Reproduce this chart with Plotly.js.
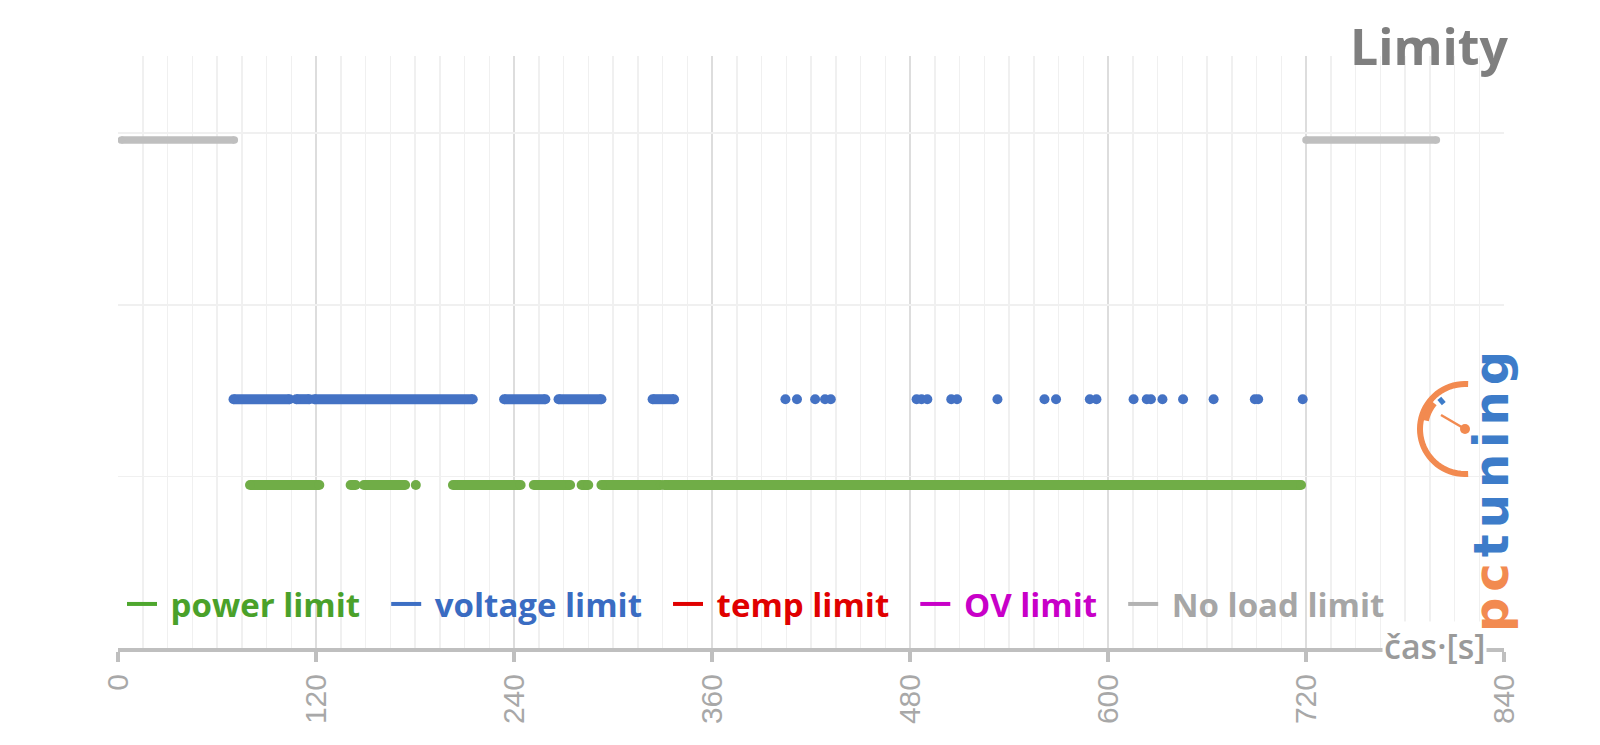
<!DOCTYPE html>
<html>
<head>
<meta charset="utf-8">
<script src="https://cdn.plot.ly/plotly-3.0.1.min.js"></script>
<style>html,body{margin:0;padding:0;background:#fff;}#chart{width:1600px;height:745px;}</style>
</head>
<body>
<div id="chart"></div>
<script>
// ---- data (time in seconds) ----
const xTicks = [0, 120, 240, 360, 480, 600, 720, 840];
const seriesNames = ['power limit', 'voltage limit', 'temp limit', 'OV limit', 'No load limit'];
// segments of active limit: [start, end]; single dots have start == end
const powerLimit = [[80,122],[141,144],[149,174],[180.5,180.5],[203,244],[252,274],[281,285],[293,329],[331,717]];
const voltageLimit = [[70,104],[108,116],[119,215],[234,259],[267,293],[324,337],
  [404.5,404.5],[411.5,411.5],[422.5,422.5],[428.5,428.5],[432,432],
  [484,484],[487,487],[490.5,490.5],[505,505],[508.5,508.5],[533,533],
  [561.5,561.5],[568.5,568.5],[589,589],[593,593],[615.5,615.5],[623.5,623.5],[626,626],
  [633,633],[645.5,645.5],[664,664],[689,689],[691,691],[718,718]];
const tempLimit = [];
const ovLimit = [];
const noLoadLimit = [[2,70.5],[720,799]];
// level of each series on the (hidden) y axis
const powerLevel = 0.95, voltageLevel = 1.45, noLoadLevel = 2.96;

// ---- helpers ----
function build(segs, level) {
  const x = [], y = [];
  segs.forEach(s => {
    if (s[0] === s[1]) { x.push(s[0]); y.push(level); }
    else { x.push(s[0], s[1]); y.push(level, level); }
    x.push(null); y.push(null);
  });
  return {x, y};
}
const L = 118, R = 1504, T = 56, B = 648;
const PX = x => (x - L) / (R - L);
const PY = y => (B - y) / (B - T);

const colors = { power: '#70ad47', voltage: '#4472c4', nol: '#bfbfbf' };
const legendCols = [
  {line:'#4ea72e', text:'#4aa12a'},
  {line:'#3d6fc4', text:'#3a6cc2'},
  {line:'#e00000', text:'#e00000'},
  {line:'#c800c8', text:'#c800c8'},
  {line:'#b3b3b3', text:'#a6a6a6'}
];

const traces = [];
function dataTrace(segs, level, color, w) {
  const d = build(segs, level);
  return {x: d.x, y: d.y, type:'scatter', mode:'lines+markers', showlegend:false,
    connectgaps:false, line:{color, width:w}, marker:{color, size:w}, hoverinfo:'skip'};
}
traces.push(dataTrace(noLoadLimit, noLoadLevel, colors.nol, 7.5));
traces.push(dataTrace(powerLimit, powerLevel, colors.power, 10));
traces.push(dataTrace(voltageLimit, voltageLevel, colors.voltage, 10));
// legend entries
const legendData = [powerLimit, voltageLimit, tempLimit, ovLimit, noLoadLimit];
seriesNames.forEach((n, i) => {
  traces.push({x:[null], y:[null], type:'scatter', mode:'lines', showlegend:true,
    name:'&nbsp;<span style="color:' + legendCols[i].text + '">' + n + '</span>&nbsp;&nbsp;<span style="font-size:15px">&nbsp;</span>',
    line:{color:legendCols[i].line, width:4}, hoverinfo:'skip'});
});

// logo gauge
const shapes = [];
const cx = 1465, cy = 429, r = 45;
function arcPath(rad, a0, a1) {
  let p = '';
  const n = 40;
  for (let k = 0; k <= n; k++) {
    const a = (a0 + (a1 - a0) * k / n) * Math.PI / 180;
    const x = cx + rad * Math.cos(a), y = cy - rad * Math.sin(a);
    p += (k === 0 ? 'M' : 'L') + PX(x).toFixed(5) + ',' + PY(y).toFixed(5);
  }
  return p;
}
shapes.push({type:'path', xref:'paper', yref:'paper', path:arcPath(r, 86, 274), line:{color:'#f28a50', width:6}, layer:'above'});
shapes.push({type:'path', xref:'paper', yref:'paper', path:arcPath(r-5, 140, 168), line:{color:'#f28a50', width:6}, layer:'above'});
const ba = 130 * Math.PI / 180;
shapes.push({type:'line', xref:'paper', yref:'paper',
  x0:PX(cx + 33*Math.cos(ba)), y0:PY(cy - 33*Math.sin(ba)), x1:PX(cx + 40*Math.cos(ba)), y1:PY(cy - 40*Math.sin(ba)),
  line:{color:'#3d7cc9', width:5}, layer:'above'});
shapes.push({type:'line', xref:'paper', yref:'paper', x0:PX(cx), y0:PY(cy), x1:PX(cx-24), y1:PY(cy-14),
  line:{color:'#f28a50', width:2.5}, layer:'above'});
shapes.push({type:'circle', xref:'paper', yref:'paper', x0:PX(cx-5), x1:PX(cx+5), y0:PY(cy+5), y1:PY(cy-5),
  fillcolor:'#f28a50', line:{width:0}, layer:'above'});

const layout = {
  width:1600, height:745,
  margin:{l:L, r:1600-R, t:T, b:745-B, pad:0},
  paper_bgcolor:'#ffffff', plot_bgcolor:'#ffffff',
  hovermode:false,
  title:{text:'Limity', xref:'container', yref:'container', x:1508/1600, xanchor:'right',
    y:1-47/745, yanchor:'middle', font:{family:'Open Sans', size:50, weight:700, color:'#7f7f7f'}},
  xaxis:{range:[0,840], tickmode:'linear', tick0:0, dtick:120, tickangle:-90,
    tickfont:{family:'Liberation Sans, Arial', size:30, color:'#a8a8a8'},
    showgrid:true, gridcolor:'#dddddd', gridwidth:2,
    minor:{tickmode:'linear', tick0:0, dtick:15, showgrid:true, gridcolor:'#f0f0f0', gridwidth:1.5, ticks:''},
    showline:true, linecolor:'#bfbfbf', linewidth:4,
    ticks:'outside', ticklen:10, tickwidth:4, tickcolor:'#bfbfbf', zeroline:false, fixedrange:true},
  yaxis:{range:[0,3.45], tickmode:'linear', tick0:0, dtick:1, showticklabels:false,
    showgrid:true, gridcolor:'#f0f0f0', gridwidth:1.5, zeroline:false, showline:false, ticks:'', fixedrange:true},
  legend:{orientation:'h', x:PX(122), xanchor:'left', y:PY(604), yanchor:'middle',
    bgcolor:'rgba(0,0,0,0)', font:{family:'Open Sans', size:33, weight:700},
    itemwidth:30, tracegroupgap:0},
  annotations:[
    {text:'čas·[s]', xref:'paper', yref:'paper', x:PX(1487), y:PY(646), xanchor:'right', yanchor:'middle',
     showarrow:false, bgcolor:'#ffffff', borderpad:1,
     font:{family:'Open Sans', size:34, weight:600, color:'#9a9a9a'}},
    {text:'<span style="color:#f28a50;letter-spacing:6px">pc</span><span style="color:#3d7cc9;letter-spacing:6px">tuning</span>',
     xref:'paper', yref:'paper', x:PX(1491), y:PY(489), xanchor:'center', yanchor:'middle',
     textangle:-90, showarrow:false,
     font:{family:'DejaVu Sans', size:48, weight:700}}
  ],
  shapes:shapes
};

Plotly.newPlot('chart', traces, layout, {displayModeBar:false, staticPlot:true});
</script>
</body>
</html>
